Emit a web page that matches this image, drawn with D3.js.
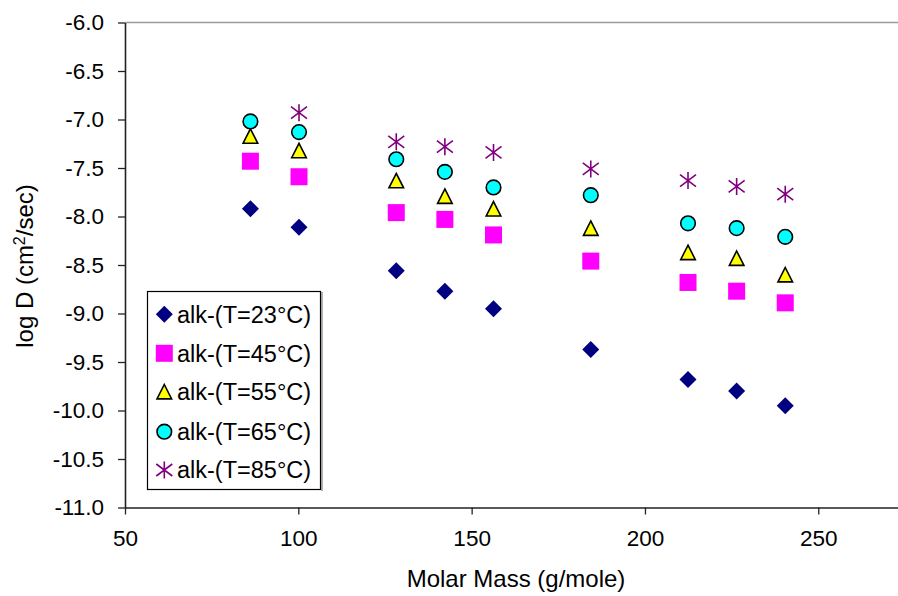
<!DOCTYPE html>
<html>
<head>
<meta charset="utf-8">
<script src="https://cdn.jsdelivr.net/npm/d3@7"></script>
<style>
  html, body { margin: 0; padding: 0; background: #fff; }
  svg { display: block; font-family: "Liberation Sans", Arial, sans-serif; }
</style>
</head>
<body>
<svg id="chart" width="898" height="596"></svg>
<script>
// Molar masses of the n-alkanes (g/mole)
const molarMass = [86.18, 100.2, 128.26, 142.28, 156.31, 184.37, 212.42, 226.45, 240.47];

// log D (cm^2/sec) per temperature
const logD23 = [-7.92, -8.11, -8.56, -8.77, -8.95, -9.37, -9.68, -9.80, -9.95];
const logD45 = [-7.43, -7.59, -7.96, -8.03, -8.19, -8.46, -8.68, -8.77, -8.89];
const logD55 = [-7.17, -7.32, -7.63, -7.79, -7.92, -8.12, -8.37, -8.43, -8.60];
const logD65 = [-7.02, -7.13, -7.41, -7.54, -7.70, -7.78, -8.07, -8.12, -8.21];
const logD85 = [null, -6.93, -7.23, -7.28, -7.34, -7.51, -7.63, -7.69, -7.77];

const seriesNames = ["alk-(T=23°C)", "alk-(T=45°C)", "alk-(T=55°C)", "alk-(T=65°C)", "alk-(T=85°C)"];
const seriesValues = [logD23, logD45, logD55, logD65, logD85];
const seriesShapes = ["diamond", "square", "triangle", "circle", "star"];

const xTicks = [50, 100, 150, 200, 250];
const yTicks = [-11.0, -10.5, -10.0, -9.5, -9.0, -8.5, -8.0, -7.5, -7.0, -6.5, -6.0];

const svg = d3.select("#chart");
const plot = { left: 125, right: 898, top: 22.5, bottom: 507.5 };

const x = d3.scaleLinear().domain([50, 273]).range([plot.left, plot.right]);
const y = d3.scaleLinear().domain([-11, -6]).range([plot.bottom, plot.top]);

// top border of plot area
svg.append("line")
  .attr("x1", plot.left).attr("x2", plot.right)
  .attr("y1", plot.top).attr("y2", plot.top)
  .attr("stroke", "#9a9a9a").attr("stroke-width", 1.5);

// axes
const yAxis = svg.append("g")
  .attr("transform", `translate(${plot.left},0)`)
  .call(d3.axisLeft(y).tickValues(yTicks).tickFormat(d3.format(".1f")).tickSizeInner(7).tickSizeOuter(0).tickPadding(14));
const xAxis = svg.append("g")
  .attr("transform", `translate(0,${plot.bottom})`)
  .call(d3.axisBottom(x).tickValues(xTicks).tickFormat(d3.format("d")).tickSizeInner(7).tickSizeOuter(0).tickPadding(16));

[yAxis, xAxis].forEach(g => {
  g.select(".domain").attr("stroke", "#222").attr("stroke-width", 1.6);
  g.selectAll(".tick line").attr("stroke", "#222").attr("stroke-width", 1.3);
  g.selectAll(".tick text")
    .attr("fill", "#000")
    .style("font-size", "22.5px")
    .style("font-family", "'Liberation Sans', Arial, sans-serif");
});
yAxis.selectAll(".tick text").text(d => d3.format(".1f")(d).replace("−", "-"));

// axis titles
svg.append("text")
  .attr("x", 516).attr("y", 587)
  .attr("text-anchor", "middle")
  .style("font-size", "24px")
  .text("Molar Mass (g/mole)");

const yTitle = svg.append("text")
  .attr("transform", "translate(33,266) rotate(-90)")
  .attr("text-anchor", "middle")
  .style("font-size", "24px");
yTitle.append("tspan").text("log D (cm");
yTitle.append("tspan").attr("dy", -8).style("font-size", "16px").text("2");
yTitle.append("tspan").attr("dy", 8).text("/sec)");

// marker drawing
function drawMarker(g, shape) {
  if (shape === "diamond") {
    g.append("path").attr("d", "M0,-8.5L8.5,0L0,8.5L-8.5,0Z").attr("fill", "#000080");
  } else if (shape === "square") {
    g.append("rect").attr("x", -8.5).attr("y", -8.5).attr("width", 17).attr("height", 17).attr("fill", "#FF00FF");
  } else if (shape === "triangle") {
    g.append("path").attr("d", "M0,-7.2L7.3,7.2L-7.3,7.2Z")
      .attr("fill", "#FFFF00").attr("stroke", "#000").attr("stroke-width", 1.6).attr("stroke-linejoin", "miter");
  } else if (shape === "circle") {
    g.append("circle").attr("r", 7.3)
      .attr("fill", "#00FFFF").attr("stroke", "#000").attr("stroke-width", 1.6);
  } else if (shape === "star") {
    g.append("path").attr("d", "M0,-8.5L0,8.5M-8,-6L8,6M-8,6L8,-6")
      .attr("fill", "none").attr("stroke", "#800080").attr("stroke-width", 1.6);
  }
}

// data points
seriesValues.forEach((vals, i) => {
  const pts = molarMass.map((m, j) => ({ m, v: vals[j] })).filter(d => d.v !== null);
  svg.append("g").selectAll("g")
    .data(pts)
    .join("g")
    .attr("transform", d => `translate(${x(d.m)},${y(d.v)})`)
    .each(function () { drawMarker(d3.select(this), seriesShapes[i]); });
});

// legend
const legend = svg.append("g");
legend.append("line")
  .attr("x1", 322).attr("x2", 322).attr("y1", 292).attr("y2", 491)
  .attr("stroke", "#9a9a9a").attr("stroke-width", 1.5);
legend.append("rect")
  .attr("x", 147.5).attr("y", 291.5).attr("width", 173).attr("height", 198)
  .attr("fill", "#fff").attr("stroke", "#000").attr("stroke-width", 1.2);
const rowY = [314.3, 353.3, 391.7, 431.7, 470];
seriesNames.forEach((name, i) => {
  const row = legend.append("g").attr("transform", `translate(0,${rowY[i]})`);
  drawMarker(row.append("g").attr("transform", "translate(164.3,0)"), seriesShapes[i]);
  row.append("text")
    .attr("x", 177).attr("y", 0).attr("dy", "0.35em")
    .style("font-size", "23.5px")
    .text(name);
});
</script>
</body>
</html>
